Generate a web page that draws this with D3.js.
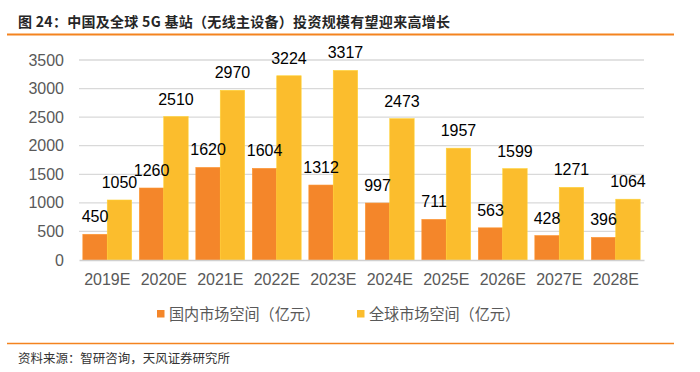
<!DOCTYPE html>
<html>
<head>
<meta charset="utf-8">
<script src="https://cdn.jsdelivr.net/npm/d3@7"></script>
<style>
  html, body { margin: 0; padding: 0; background: #fff; }
  svg { display: block; }
</style>
</head>
<body>
<svg id="chart" width="700" height="372"></svg>
<script>
const categories = ["2019E","2020E","2021E","2022E","2023E","2024E","2025E","2026E","2027E","2028E"];
const domestic = [450,1260,1620,1604,1312,997,711,563,428,396];
const global = [1050,2510,2970,3224,3317,2473,1957,1599,1271,1064];
const seriesNames = ["国内市场空间（亿元）","全球市场空间（亿元）"];
const yTicks = [0,500,1000,1500,2000,2500,3000,3500];
const titleText = "图 24：中国及全球 5G 基站（无线主设备）投资规模有望迎来高增长";
const sourceText = "资料来源：智研咨询，天风证券研究所";

const colors = ["#F4862A", "#FBBD2D"];
const numFont = "'Liberation Sans', Arial, 'Noto Sans CJK SC', sans-serif";
const cjkFont = "'Noto Sans CJK SC', 'Liberation Sans', sans-serif";

const svg = d3.select("#chart");
const m = {left: 79, right: 644, top: 60, bottom: 260};

// Title
svg.append("text").attr("x", 18).attr("y", 27)
  .attr("font-family", cjkFont).attr("font-weight", "bold")
  .attr("font-size", 14).attr("fill", "#262626")
  .attr("textLength", 432).attr("lengthAdjust", "spacing")
  .text(titleText);
svg.append("line").attr("x1", 7).attr("x2", 674).attr("y1", 34.5).attr("y2", 34.5)
  .attr("stroke", "#F4831F").attr("stroke-width", 2);

const x = d3.scaleBand().domain(categories).range([m.left, m.right]).padding(0);
const inner = d3.scaleBand().domain([0,1]).range([0, x.bandwidth()]).paddingInner(0).paddingOuter(0.157);
const y = d3.scaleLinear().domain([0, 3500]).range([m.bottom, m.top]);

// gridlines
svg.append("g").selectAll("line").data(yTicks.filter(d => d > 0)).join("line")
  .attr("x1", m.left).attr("x2", m.right)
  .attr("y1", d => y(d)).attr("y2", d => y(d))
  .attr("stroke", "#D9D9D9").attr("stroke-width", 1.3);

// y axis labels
const yAxis = d3.axisLeft(y).tickValues(yTicks).tickFormat(d3.format("d")).tickSize(0).tickPadding(0);
const gy = svg.append("g").attr("transform", `translate(${m.left - 15},0)`).call(yAxis);
gy.select(".domain").remove();
gy.selectAll("text").attr("font-family", numFont).attr("font-size", 16).attr("fill", "#595959");

// bars
const data = [domestic, global];
data.forEach((series, si) => {
  svg.append("g").selectAll("rect").data(series).join("rect")
    .attr("x", (d, i) => x(categories[i]) + inner(si))
    .attr("width", inner.bandwidth())
    .attr("y", d => y(d))
    .attr("height", d => y(0) - y(d))
    .attr("fill", colors[si])
    .attr("stroke", d3.color(colors[si]).brighter(0.3))
    .attr("stroke-width", 0.6);
});
// data labels (drawn after all bars)
data.forEach((series, si) => {
  svg.append("g").selectAll("text").data(series).join("text")
    .attr("x", (d, i) => x(categories[i]) + inner(si) + inner.bandwidth() / 2)
    .attr("y", d => y(d) - 12)
    .attr("text-anchor", "middle")
    .attr("font-family", numFont).attr("font-size", 16).attr("fill", "#000")
    .text(d => d);
});

// x axis
const xAxis = d3.axisBottom(x).tickSize(0).tickPadding(0);
const gx = svg.append("g").attr("transform", `translate(0,${m.bottom})`).call(xAxis);
gx.select(".domain").attr("stroke", "#D0D0D0").attr("stroke-width", 1.5);
gx.selectAll("text").attr("font-family", numFont).attr("font-size", 16)
  .attr("fill", "#595959").attr("dy", null).attr("y", 25);

// legend
const legendX = [157, 357];
seriesNames.forEach((name, i) => {
  svg.append("rect").attr("x", legendX[i]).attr("y", 310).attr("width", 7.5).attr("height", 7.5).attr("fill", colors[i]);
  svg.append("text").attr("x", legendX[i] + 12).attr("y", 320)
    .attr("font-family", cjkFont).attr("font-size", 15.5).attr("fill", "#595959")
    .attr("textLength", 151).attr("lengthAdjust", "spacingAndGlyphs")
    .text(name);
});

// footer
svg.append("line").attr("x1", 7).attr("x2", 674).attr("y1", 343.5).attr("y2", 343.5)
  .attr("stroke", "#F4831F").attr("stroke-width", 1.5);
svg.append("text").attr("x", 18).attr("y", 363)
  .attr("font-family", cjkFont).attr("font-size", 12.5).attr("fill", "#333")
  .attr("textLength", 212).attr("lengthAdjust", "spacingAndGlyphs")
  .text(sourceText);
</script>
</body>
</html>
